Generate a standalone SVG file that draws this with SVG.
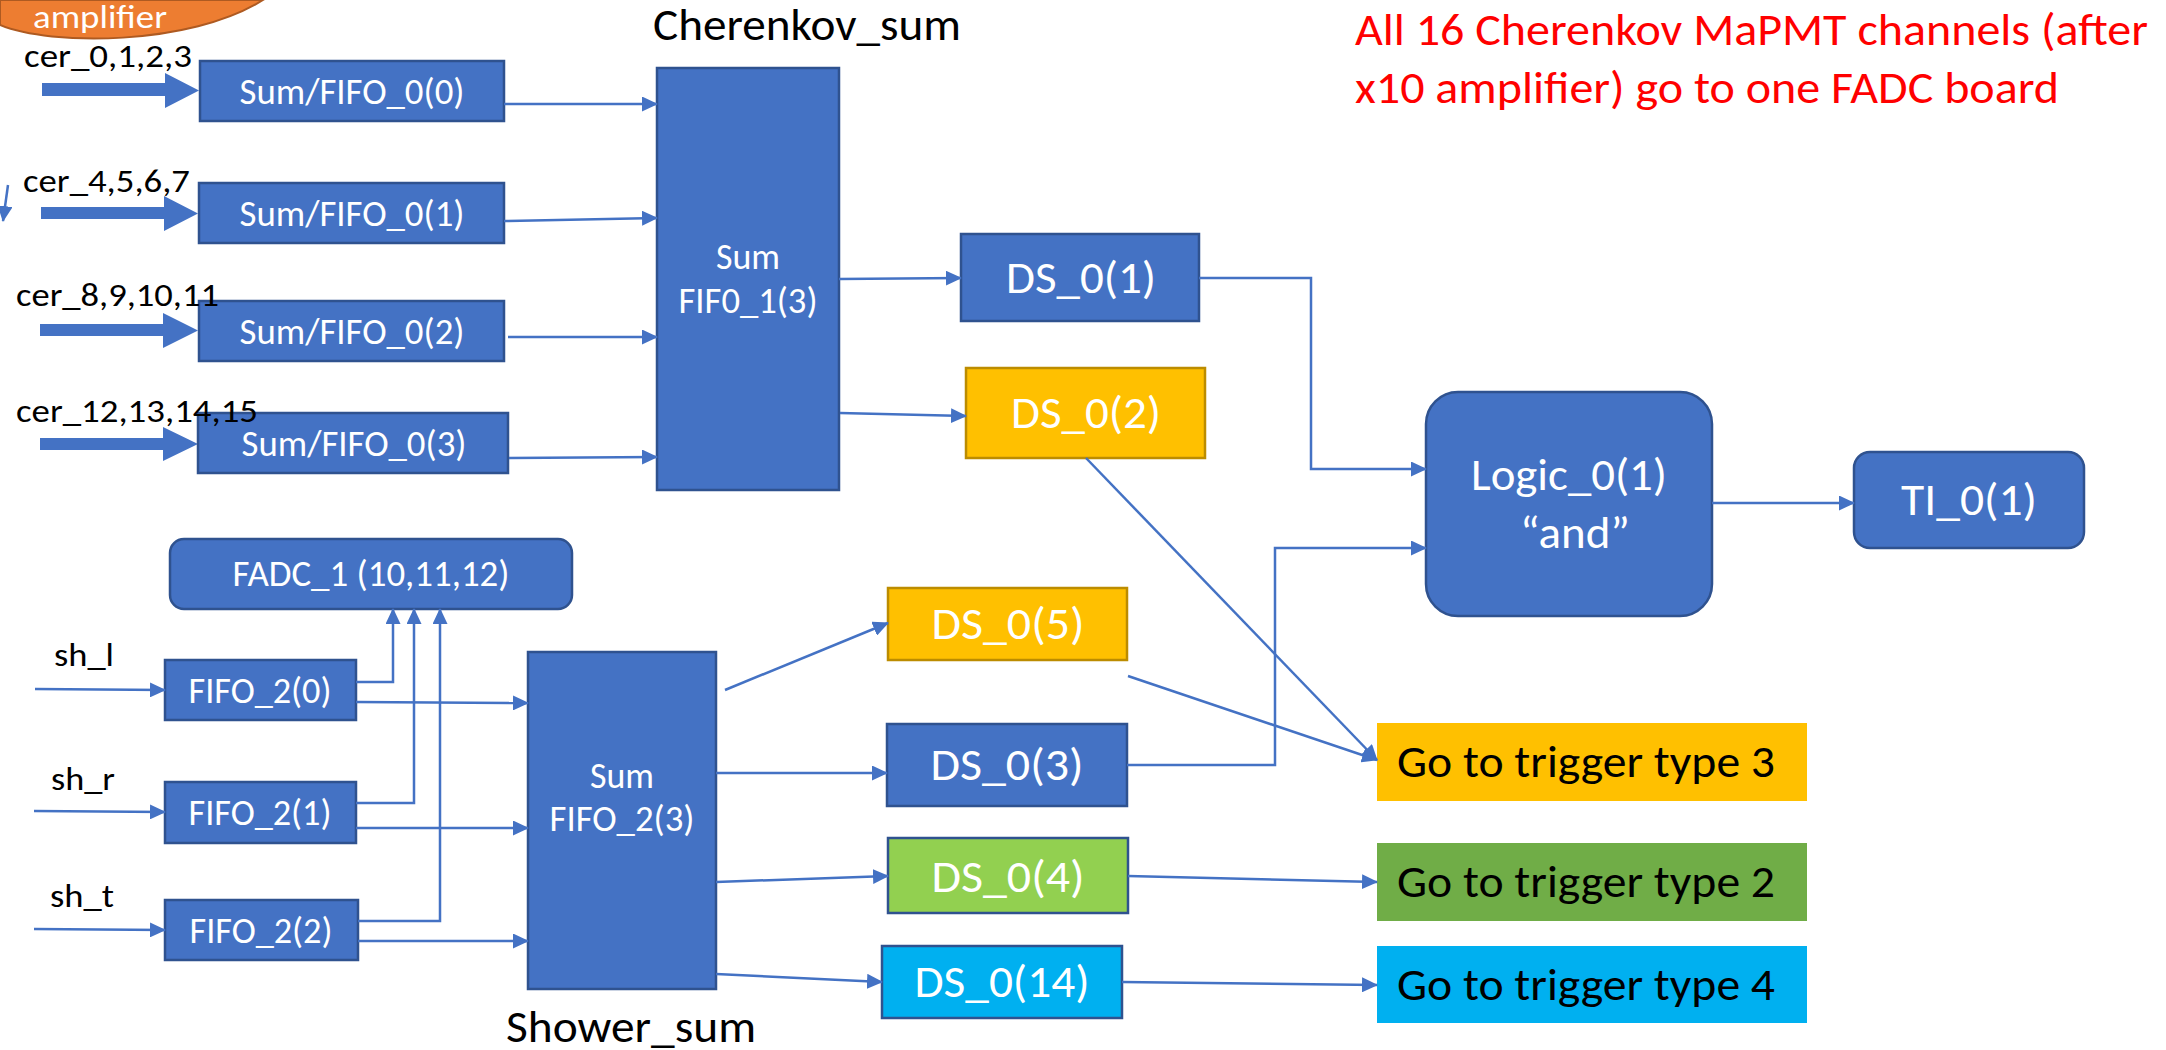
<svg xmlns="http://www.w3.org/2000/svg" width="2166" height="1050" viewBox="0 0 2166 1050">
<defs>
<marker id="ah" markerUnits="userSpaceOnUse" markerWidth="16" markerHeight="15" refX="15" refY="7.5" orient="auto">
<path d="M0,0 L16,7.5 L0,15 Z" fill="#4472C4"/>
</marker>
<style>
.bx{fill:#4472C4;stroke:#2F528F;stroke-width:2.5}
.yl{fill:#FFC000;stroke:#BC8C00;stroke-width:2.5}
.gr{fill:#92D050;stroke:#2F528F;stroke-width:2.5}
.cy{fill:#00B0F0;stroke:#2F528F;stroke-width:2.5}
.t{font-family:Carlito,Lato,"Open Sans",sans-serif;fill:#fff}
.k{font-family:Carlito,Lato,"Open Sans",sans-serif;fill:#000}
.r{font-family:Carlito,Lato,"Open Sans",sans-serif;fill:#FF0000}
.c{fill:none;stroke:#4472C4;stroke-width:2.5}
.ca{fill:none;stroke:#4472C4;stroke-width:2.5;marker-end:url(#ah)}
.blk{fill:#4472C4}
</style>
</defs>
<rect width="2166" height="1050" fill="#fff"/>

<g id="amplifier">
<path d="M0,0 L0,25 C50,46 190,46 263,0 Z" fill="#ED7D31" stroke="#AE5A21" stroke-width="2"/>
<text class="t" x="33" y="28" font-size="32" textLength="134" lengthAdjust="spacingAndGlyphs">amplifier</text>
</g>

<g id="note">
<text class="r" x="1355" y="45" font-size="45" textLength="793" lengthAdjust="spacingAndGlyphs">All 16 Cherenkov MaPMT channels (after</text>
<text class="r" x="1355" y="103" font-size="45" textLength="704" lengthAdjust="spacingAndGlyphs">x10 amplifier) go to one FADC board</text>
</g>

<g id="input-arrows">
<path class="blk" d="M42,83 L165,83 L165,73 L199,90.5 L165,108 L165,96 L42,96 Z"/>
<path class="blk" d="M41,207 L164,207 L164,196 L198,213.5 L164,231 L164,219 L41,219 Z"/>
<path class="blk" d="M40,324 L163,324 L163,313 L198,330.5 L163,348 L163,336 L40,336 Z"/>
<path class="blk" d="M40,438 L163,438 L163,427 L198,444 L163,461 L163,450 L40,450 Z"/>
</g>

<g id="sumfifo0-0"><rect class="bx" x="200" y="61" width="304" height="60"/><text class="t" x="352" y="104" font-size="36" text-anchor="middle" textLength="225" lengthAdjust="spacingAndGlyphs">Sum/FIFO_0(0)</text></g>
<g id="sumfifo0-1"><rect class="bx" x="199" y="183" width="305" height="60"/><text class="t" x="352" y="226" font-size="36" text-anchor="middle" textLength="225" lengthAdjust="spacingAndGlyphs">Sum/FIFO_0(1)</text></g>
<g id="sumfifo0-2"><rect class="bx" x="199" y="301" width="305" height="60"/><text class="t" x="352" y="344" font-size="36" text-anchor="middle" textLength="225" lengthAdjust="spacingAndGlyphs">Sum/FIFO_0(2)</text></g>
<g id="sumfifo0-3"><rect class="bx" x="198" y="413" width="310" height="60"/><text class="t" x="354" y="456" font-size="36" text-anchor="middle" textLength="225" lengthAdjust="spacingAndGlyphs">Sum/FIFO_0(3)</text></g>

<g id="sumfifo1"><rect class="bx" x="657" y="68" width="182" height="422"/>
<text class="t" x="748" y="269" font-size="36" text-anchor="middle" textLength="64" lengthAdjust="spacingAndGlyphs">Sum</text>
<text class="t" x="748" y="313" font-size="36" text-anchor="middle" textLength="139" lengthAdjust="spacingAndGlyphs">FIF0_1(3)</text></g>

<g id="ds01"><rect class="bx" x="961" y="234" width="238" height="87"/><text class="t" x="1081" y="293" font-size="46" text-anchor="middle" textLength="150" lengthAdjust="spacingAndGlyphs">DS_0(1)</text></g>
<g id="ds02"><rect class="yl" x="966" y="368" width="239" height="90"/><text class="t" x="1086" y="428" font-size="46" text-anchor="middle" textLength="150" lengthAdjust="spacingAndGlyphs">DS_0(2)</text></g>

<g id="logic"><rect class="bx" x="1426" y="392" width="286" height="224" rx="32" ry="32"/>
<text class="t" x="1569" y="490" font-size="46" text-anchor="middle" textLength="196" lengthAdjust="spacingAndGlyphs">Logic_0(1)</text>
<text class="t" x="1575" y="548" font-size="46" text-anchor="middle" textLength="110" lengthAdjust="spacingAndGlyphs">“and”</text></g>

<g id="ti"><rect class="bx" x="1854" y="452" width="230" height="96" rx="16" ry="16"/><text class="t" x="1969" y="515" font-size="46" text-anchor="middle" textLength="136" lengthAdjust="spacingAndGlyphs">TI_0(1)</text></g>

<g id="fadc1"><rect class="bx" x="170" y="539" width="402" height="70" rx="14" ry="14"/><text class="t" x="371" y="586" font-size="36" text-anchor="middle" textLength="277" lengthAdjust="spacingAndGlyphs">FADC_1 (10,11,12)</text></g>

<g id="fifo2-0"><rect class="bx" x="165" y="660" width="191" height="60"/><text class="t" x="260" y="703" font-size="36" text-anchor="middle" textLength="143" lengthAdjust="spacingAndGlyphs">FIFO_2(0)</text></g>
<g id="fifo2-1"><rect class="bx" x="165" y="782" width="191" height="61"/><text class="t" x="260" y="825" font-size="36" text-anchor="middle" textLength="143" lengthAdjust="spacingAndGlyphs">FIFO_2(1)</text></g>
<g id="fifo2-2"><rect class="bx" x="165" y="900" width="193" height="60"/><text class="t" x="261" y="943" font-size="36" text-anchor="middle" textLength="143" lengthAdjust="spacingAndGlyphs">FIFO_2(2)</text></g>

<g id="sumfifo2"><rect class="bx" x="528" y="652" width="188" height="337"/>
<text class="t" x="622" y="788" font-size="36" text-anchor="middle" textLength="64" lengthAdjust="spacingAndGlyphs">Sum</text>
<text class="t" x="622" y="831" font-size="36" text-anchor="middle" textLength="145" lengthAdjust="spacingAndGlyphs">FIFO_2(3)</text></g>

<g id="ds05"><rect class="yl" x="888" y="588" width="239" height="72"/><text class="t" x="1008" y="639" font-size="46" text-anchor="middle" textLength="153" lengthAdjust="spacingAndGlyphs">DS_0(5)</text></g>
<g id="ds03"><rect class="bx" x="887" y="724" width="240" height="82"/><text class="t" x="1007" y="780" font-size="46" text-anchor="middle" textLength="153" lengthAdjust="spacingAndGlyphs">DS_0(3)</text></g>
<g id="ds04"><rect class="gr" x="888" y="838" width="240" height="75"/><text class="t" x="1008" y="892" font-size="46" text-anchor="middle" textLength="153" lengthAdjust="spacingAndGlyphs">DS_0(4)</text></g>
<g id="ds014"><rect class="cy" x="882" y="946" width="240" height="72"/><text class="t" x="1002" y="997" font-size="46" text-anchor="middle" textLength="175" lengthAdjust="spacingAndGlyphs">DS_0(14)</text></g>

<g id="trigger3"><rect x="1377" y="723" width="430" height="78" fill="#FFC000"/><text class="k" x="1397" y="777" font-size="46" textLength="378" lengthAdjust="spacingAndGlyphs">Go to trigger type 3</text></g>
<g id="trigger2"><rect x="1377" y="843" width="430" height="78" fill="#70AD47"/><text class="k" x="1397" y="897" font-size="46" textLength="378" lengthAdjust="spacingAndGlyphs">Go to trigger type 2</text></g>
<g id="trigger4"><rect x="1377" y="946" width="430" height="77" fill="#00B0F0"/><text class="k" x="1397" y="1000" font-size="46" textLength="378" lengthAdjust="spacingAndGlyphs">Go to trigger type 4</text></g>

<g id="labels">
<text class="k" x="653" y="40" font-size="46" textLength="308" lengthAdjust="spacingAndGlyphs">Cherenkov_sum</text>
<text class="k" x="506" y="1042" font-size="46" textLength="250" lengthAdjust="spacingAndGlyphs">Shower_sum</text>
<text class="k" x="24" y="67" font-size="32" textLength="168" lengthAdjust="spacingAndGlyphs">cer_0,1,2,3</text>
<text class="k" x="23" y="192" font-size="32" textLength="167" lengthAdjust="spacingAndGlyphs">cer_4,5,6,7</text>
<text class="k" x="16" y="306" font-size="32" textLength="203" lengthAdjust="spacingAndGlyphs">cer_8,9,10,11</text>
<text class="k" x="16" y="422" font-size="32" textLength="242" lengthAdjust="spacingAndGlyphs">cer_12,13,14,15</text>
<text class="k" x="54" y="666" font-size="32" textLength="60" lengthAdjust="spacingAndGlyphs">sh_l</text>
<text class="k" x="51" y="790" font-size="32" textLength="64" lengthAdjust="spacingAndGlyphs">sh_r</text>
<text class="k" x="50" y="907" font-size="32" textLength="64" lengthAdjust="spacingAndGlyphs">sh_t</text>
</g>

<g id="connectors">
<path class="ca" d="M504,104 L657,104"/>
<path class="ca" d="M504,221 L657,218"/>
<path class="ca" d="M508,337 L657,337"/>
<path class="ca" d="M509,458 L657,457"/>
<path class="ca" d="M839,279 L961,278"/>
<path class="ca" d="M840,413 L966,416"/>
<path class="ca" d="M1199,278 L1311,278 L1311,469 L1426,469"/>
<path class="ca" d="M1086,458 L1377,760"/>
<path class="ca" d="M1712,503 L1854,503"/>
<path class="ca" d="M356,682 L393,682 L393,609"/>
<path class="ca" d="M356,803 L414,803 L414,609"/>
<path class="ca" d="M358,921 L440,921 L440,609"/>
<path class="ca" d="M356,702 L528,703"/>
<path class="ca" d="M356,828 L528,828"/>
<path class="ca" d="M358,941 L528,941"/>
<path class="ca" d="M35,689 L165,690"/>
<path class="ca" d="M34,811 L165,812"/>
<path class="ca" d="M34,929 L165,930"/>
<path class="ca" d="M725,690 L888,623"/>
<path class="ca" d="M716,773 L887,773"/>
<path class="ca" d="M716,882 L888,876"/>
<path class="ca" d="M716,974 L882,982"/>
<path class="ca" d="M1128,676 L1377,760"/>
<path class="ca" d="M1127,765 L1275,765 L1275,548 L1426,548"/>
<path class="ca" d="M1128,876 L1377,882"/>
<path class="ca" d="M1122,982 L1377,985"/>
<path class="ca" d="M8,185 L3,221"/>
</g>
</svg>
